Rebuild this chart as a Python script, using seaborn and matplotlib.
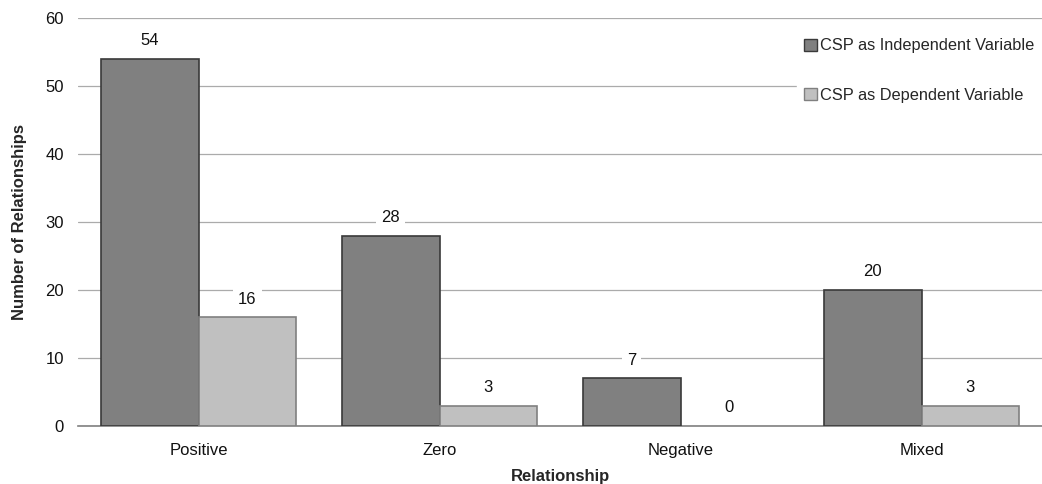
import matplotlib
matplotlib.use("Agg")
import matplotlib.pyplot as plt
import seaborn as sns
import pandas as pd

categories = ["Positive", "Zero", "Negative", "Mixed"]
independent = [54, 28, 7, 20]
dependent = [16, 3, 0, 3]
series_names = ["CSP as Independent Variable", "CSP as Dependent Variable"]
y_ticks = [0, 10, 20, 30, 40, 50, 60]

sns.set_theme(style="white")
plt.rcParams["font.family"] = ["Liberation Sans", "DejaVu Sans"]

df = pd.DataFrame({
    "Relationship": categories * 2,
    "Count": independent + dependent,
    "Series": [series_names[0]] * 4 + [series_names[1]] * 4,
})

fig = plt.figure(figsize=(10.42, 4.84), dpi=100)
ax = fig.add_axes([78 / 1042, 1 - 426 / 484, (1042 - 78) / 1042, (426 - 18) / 484])

sns.barplot(data=df, x="Relationship", y="Count", hue="Series",
            palette=["#808080", "#c0c0c0"], width=0.81, ax=ax,
            saturation=1, legend=True, zorder=3)

edges = ["#3a3a3a", "#808080"]
for i, cont in enumerate(ax.containers):
    vals = [independent, dependent][i]
    for p, v in zip(cont, vals):
        p.set_edgecolor(edges[i])
        p.set_linewidth(1.2 if v > 0 else 0)
        ax.annotate(str(v), (p.get_x() + p.get_width() / 2, p.get_height()),
                    xytext=(0, 13), textcoords="offset points",
                    ha="center", va="center", fontsize=12, color="#111111",
                    bbox=dict(boxstyle="square,pad=0.3", fc="white", ec="none"),
                    zorder=4)

ax.set_ylim(0, 60)
ax.set_xlim(-0.5, 3.5)
ax.set_yticks(y_ticks)
ax.yaxis.grid(True, color="#ababab", linewidth=0.9)
ax.set_axisbelow(True)
for s in ["top", "right", "left"]:
    ax.spines[s].set_visible(False)
ax.spines["bottom"].set_color("#808080")
ax.spines["bottom"].set_linewidth(1.2)
ax.tick_params(axis="y", labelsize=12, length=0, pad=10, labelcolor="#111111")
ax.tick_params(axis="x", labelsize=12, length=0, pad=12, labelcolor="#111111")

ax.set_xlabel("Relationship", fontsize=12, fontweight="bold", labelpad=8)
ax.set_ylabel("Number of Relationships", fontsize=12, fontweight="bold", labelpad=13)

leg = ax.legend(loc="upper right", bbox_to_anchor=(1.0093, 0.99), frameon=True,
                fontsize=11.8, labelspacing=2.1, handlelength=0.8, handleheight=0.8,
                handletextpad=0.2, borderaxespad=0.6, fancybox=False)
leg.get_frame().set_edgecolor("white")
leg.get_frame().set_facecolor("white")
leg.get_frame().set_alpha(1)
for h, ec in zip(leg.legend_handles, edges):
    h.set_edgecolor(ec)
    h.set_linewidth(1)

fig.savefig("out.png", dpi=100)
